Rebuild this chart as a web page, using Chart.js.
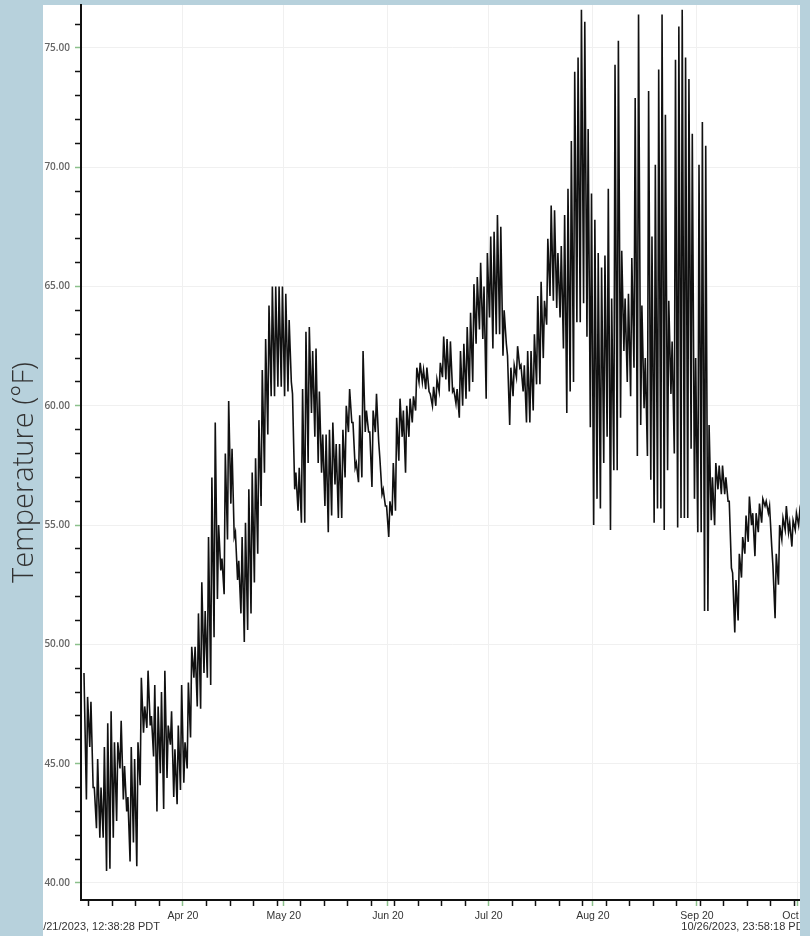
<!DOCTYPE html>
<html>
<head>
<meta charset="utf-8">
<title>Temperature</title>
<script src="https://cdn.jsdelivr.net/npm/chart.js@4.4.1/dist/chart.umd.min.js"></script>
<style>
  html, body { margin: 0; padding: 0; background: #b7d1dc; overflow: hidden; }
  #wrap { position: relative; width: 810px; height: 936px; overflow: hidden; }
  canvas { display: block; }
</style>
</head>
<body>
<div id="wrap"><canvas id="tempChart" width="850" height="936"></canvas></div>
<script>
// Days counted from Mar 21 2023 00:00 (local time)
const yTitle = 'Temperature (°F)';
const startLabel = '3/21/2023, 12:38:28 PDT';
const endLabel = '10/26/2023, 23:58:18 PDT';
const startDay = 0.527;
const endDay = 219.999;

const monthTickDays = [30, 60, 91, 121, 152, 183, 213];
const monthTickLabels = ['Apr 20', 'May 20', 'Jun 20', 'Jul 20', 'Aug 20', 'Sep 20', 'Oct 20'];
const firstWeekTick = 2;   // Thu Mar 23

// Daily highs / lows (°F), one entry per day from Mar 21 to Oct 26
const highs = [
  48.8, 47.8, 47.6, 44.0, 45.2, 44.0, 45.7, 46.7, 47.2, 45.9,
  45.9, 46.8, 44.9, 43.6, 45.7, 45.2, 45.9, 48.6, 47.4, 48.9,
  47.0, 48.3, 47.4, 48.0, 48.9, 46.6, 47.2, 45.6, 46.6, 48.3,
  45.9, 48.4, 49.9, 49.9, 51.3, 52.6, 51.4, 54.5, 57.0, 59.3,
  55.0, 53.6, 58.0, 60.2, 58.2, 54.7, 53.5, 54.5, 55.1, 56.5,
  57.2, 57.8, 59.4, 61.5, 62.8, 64.2, 65.0, 65.0, 65.0, 65.0,
  64.7, 63.6, 60.5, 57.2, 57.4, 60.7, 63.1, 63.3, 62.3, 62.4,
  60.6, 58.8, 58.8, 59.0, 59.3, 58.4, 58.4, 59.0, 60.0, 60.7,
  59.3, 57.6, 59.6, 62.3, 59.8, 58.9, 59.8, 60.5, 57.8, 56.5,
  55.8, 56.0, 57.6, 59.5, 60.3, 59.8, 60.0, 60.3, 60.4, 61.6,
  61.8, 61.5, 61.6, 60.5, 60.8, 61.1, 61.8, 62.9, 62.8, 62.7,
  60.7, 60.7, 62.3, 62.6, 63.3, 63.9, 65.1, 65.4, 66.0, 65.0,
  66.4, 67.1, 67.3, 68.0, 67.5, 64.0, 62.1, 61.6, 61.7, 62.5,
  61.7, 61.7, 62.3, 62.3, 63.0, 64.6, 65.2, 64.4, 67.0, 68.4,
  68.2, 66.4, 66.7, 68.0, 69.1, 71.1, 74.0, 74.6, 76.6, 76.1,
  71.6, 68.9, 67.8, 66.4, 65.8, 66.3, 69.1, 64.5, 74.3, 75.3,
  66.5, 64.5, 64.7, 66.2, 72.9, 76.4, 64.2, 62.0, 73.2, 67.1,
  70.1, 74.1, 76.4, 72.2, 64.4, 62.7, 74.5, 75.9, 76.6, 74.6,
  73.7, 71.4, 62.0, 70.1, 71.9, 70.9, 59.2, 57.0, 57.6, 57.5,
  57.5, 57.0, 56.0, 53.0, 52.7, 53.8, 54.5, 55.4, 56.2, 55.5,
  55.5, 55.9, 56.1, 56.0, 55.8, 53.3, 53.8, 55.0, 55.3, 55.8,
  55.1, 55.2, 55.5, 55.6, 55.4, 55.7, 55.3, 55.6, 55.2, 55.5
];
const lows = [
  43.5, 45.7, 44.0, 42.3, 41.9, 41.9, 40.5, 40.6, 41.9, 42.6,
  44.8, 43.5, 43.0, 40.9, 41.7, 40.7, 44.1, 46.3, 46.5, 46.6,
  45.3, 43.0, 44.6, 43.1, 44.4, 45.8, 43.6, 43.3, 43.9, 44.2,
  44.8, 46.1, 48.6, 47.4, 47.3, 48.8, 48.6, 48.3, 50.3, 51.9,
  53.1, 52.1, 54.4, 55.9, 54.5, 52.7, 51.3, 50.1, 50.6, 51.3,
  52.6, 53.8, 55.8, 57.2, 58.8, 60.4, 60.4, 60.8, 60.8, 60.4,
  60.6, 61.0, 56.5, 55.6, 55.1, 55.1, 57.6, 59.7, 58.7, 57.6,
  57.2, 55.8, 54.7, 55.4, 56.7, 55.3, 55.3, 57.0, 58.9, 59.3,
  57.4, 56.8, 57.0, 58.9, 58.9, 56.6, 58.9, 58.5, 56.3, 55.8,
  54.5, 55.4, 55.6, 57.7, 58.7, 57.2, 58.7, 59.3, 59.8, 61.0,
  61.0, 60.7, 60.6, 60.0, 60.0, 60.6, 61.2, 61.1, 60.6, 60.6,
  60.1, 59.5, 60.0, 60.3, 60.6, 61.0, 62.6, 63.2, 62.8, 60.3,
  63.7, 62.4, 63.0, 63.0, 62.1, 62.6, 59.2, 60.4, 61.2, 61.6,
  60.6, 59.3, 59.3, 59.8, 60.9, 60.9, 62.0, 63.4, 64.6, 64.4,
  64.1, 63.7, 62.4, 59.7, 60.6, 61.0, 63.5, 63.5, 64.3, 62.9,
  59.1, 55.0, 56.1, 55.7, 57.6, 58.7, 54.8, 57.3, 57.3, 59.5,
  62.3, 61.0, 60.4, 61.6, 57.9, 59.2, 59.9, 57.9, 56.9, 55.1,
  55.7, 55.7, 54.8, 57.3, 60.5, 58.0, 54.9, 55.3, 55.3, 55.3,
  58.2, 56.1, 54.7, 54.7, 51.4, 51.4, 55.2, 55.0, 56.5, 56.3,
  56.3, 56.0, 53.2, 50.5, 51.0, 52.8, 53.8, 54.3, 55.0, 53.7,
  54.7, 55.1, 55.8, 55.5, 54.1, 51.1, 52.5, 54.4, 54.8, 54.7,
  54.1, 54.8, 55.0, 55.0, 54.8, 54.6, 54.5, 54.9, 54.4, 54.8
];

// afternoon high, then the next morning's low
const points = [];
highs.forEach((h, d) => {
  points.push({ x: d === 0 ? startDay : d + 0.6, y: h });
  points.push({ x: d + 1.25, y: lows[d] });
});

const BLUE = '#b7d1dc';
const GREEN = '#8cc08c';
const GRID = '#f0f0f0';

const panelPlugin = {
  id: 'panel',
  beforeDraw(chart) {
    const ctx = chart.ctx;
    ctx.save();
    ctx.fillStyle = BLUE;
    ctx.fillRect(0, 0, chart.width, chart.height);
    ctx.fillStyle = '#ffffff';
    ctx.fillRect(43, 5, 757, chart.height - 5);
    ctx.restore();
  },
  afterDraw(chart) {
    const ctx = chart.ctx;
    const xs = chart.scales.x;
    const area = chart.chartArea;

    // axis title, in the blue margin
    ctx.save();
    ctx.translate(33, (area.top + area.bottom) / 2 + 20);
    ctx.rotate(-Math.PI / 2);
    ctx.font = '300 29px "Open Sans", Lato, sans-serif';
    ctx.fillStyle = '#333';
    ctx.textAlign = 'center';
    ctx.textBaseline = 'alphabetic';
    ctx.fillText(yTitle, 0, 0);
    ctx.restore();

    // first / last timestamp under the axis
    const y = xs.bottom - 9;
    ctx.save();
    ctx.beginPath();
    ctx.rect(43, 5, 757, chart.height - 5);
    ctx.clip();
    ctx.font = '11px "Liberation Sans", Arial, sans-serif';
    ctx.fillStyle = '#333';
    ctx.textBaseline = 'middle';
    ctx.textAlign = 'right';
    ctx.fillText(startLabel, xs.getPixelForValue(startDay) + 76, y);
    ctx.textAlign = 'left';
    ctx.fillText(endLabel, xs.getPixelForValue(endDay) - 140, y);
    ctx.restore();

    ctx.save();
    ctx.fillStyle = BLUE;
    ctx.fillRect(800, 0, chart.width - 800, chart.height);
    ctx.restore();
  }
};

new Chart(document.getElementById('tempChart').getContext('2d'), {
  type: 'line',
  data: {
    datasets: [{
      label: 'Temperature',
      data: points,
      borderColor: '#111111',
      borderWidth: 1.6,
      pointRadius: 0,
      tension: 0,
      fill: false
    }]
  },
  options: {
    responsive: false,
    animation: false,
    layout: { padding: { top: 5, right: 27.5, left: 0, bottom: 0 } },
    plugins: { legend: { display: false }, tooltip: { enabled: false } },
    scales: {
      x: {
        type: 'linear',
        min: -0.36,
        max: 220.36,
        afterBuildTicks(s) {
          const vals = monthTickDays.slice();
          for (let d = firstWeekTick; d <= s.max; d += 7) if (!vals.includes(d)) vals.push(d);
          vals.sort((a, b) => a - b);
          s.ticks = vals.map(v => ({ value: v, major: monthTickDays.includes(v) }));
        },
        afterFit(s) {
          s.height = 36;
          s.paddingLeft = 0;
          s.paddingRight = 0;
        },
        grid: {
          color: c => (c.tick && c.tick.major ? GRID : 'rgba(0,0,0,0)'),
          tickColor: c => (c.tick && c.tick.major ? GREEN : '#111'),
          tickLength: 6,
          tickWidth: 1.5
        },
        border: { color: '#111', width: 2 },
        ticks: {
          autoSkip: false,
          maxRotation: 0,
          padding: 4,
          color: '#333',
          font: { family: '"Liberation Sans", Arial, sans-serif', size: 10.5 },
          callback: v => {
            const i = monthTickDays.indexOf(v);
            return i < 0 ? '' : monthTickLabels[i];
          }
        }
      },
      y: {
        min: 39.287,
        max: 76.8,
        afterBuildTicks(s) {
          const t = [];
          for (let v = 40; v <= 76; v++) t.push({ value: v, major: v % 5 === 0 });
          s.ticks = t;
        },
        afterFit(s) {
          s.width = 81;
          s.paddingTop = 0;
          s.paddingBottom = 0;
        },
        grid: {
          color: c => (c.tick && c.tick.major ? GRID : 'rgba(0,0,0,0)'),
          tickColor: c => (c.tick && c.tick.major ? GREEN : '#111'),
          tickLength: 6,
          tickWidth: 1.5
        },
        border: { color: '#111', width: 2 },
        ticks: {
          padding: 5,
          color: '#666',
          font: { family: '"Open Sans", sans-serif', size: 10, weight: '600' },
          callback: v => (v % 5 === 0 ? v.toFixed(2) : '')
        }
      }
    }
  },
  plugins: [panelPlugin]
});
</script>
</body>
</html>
